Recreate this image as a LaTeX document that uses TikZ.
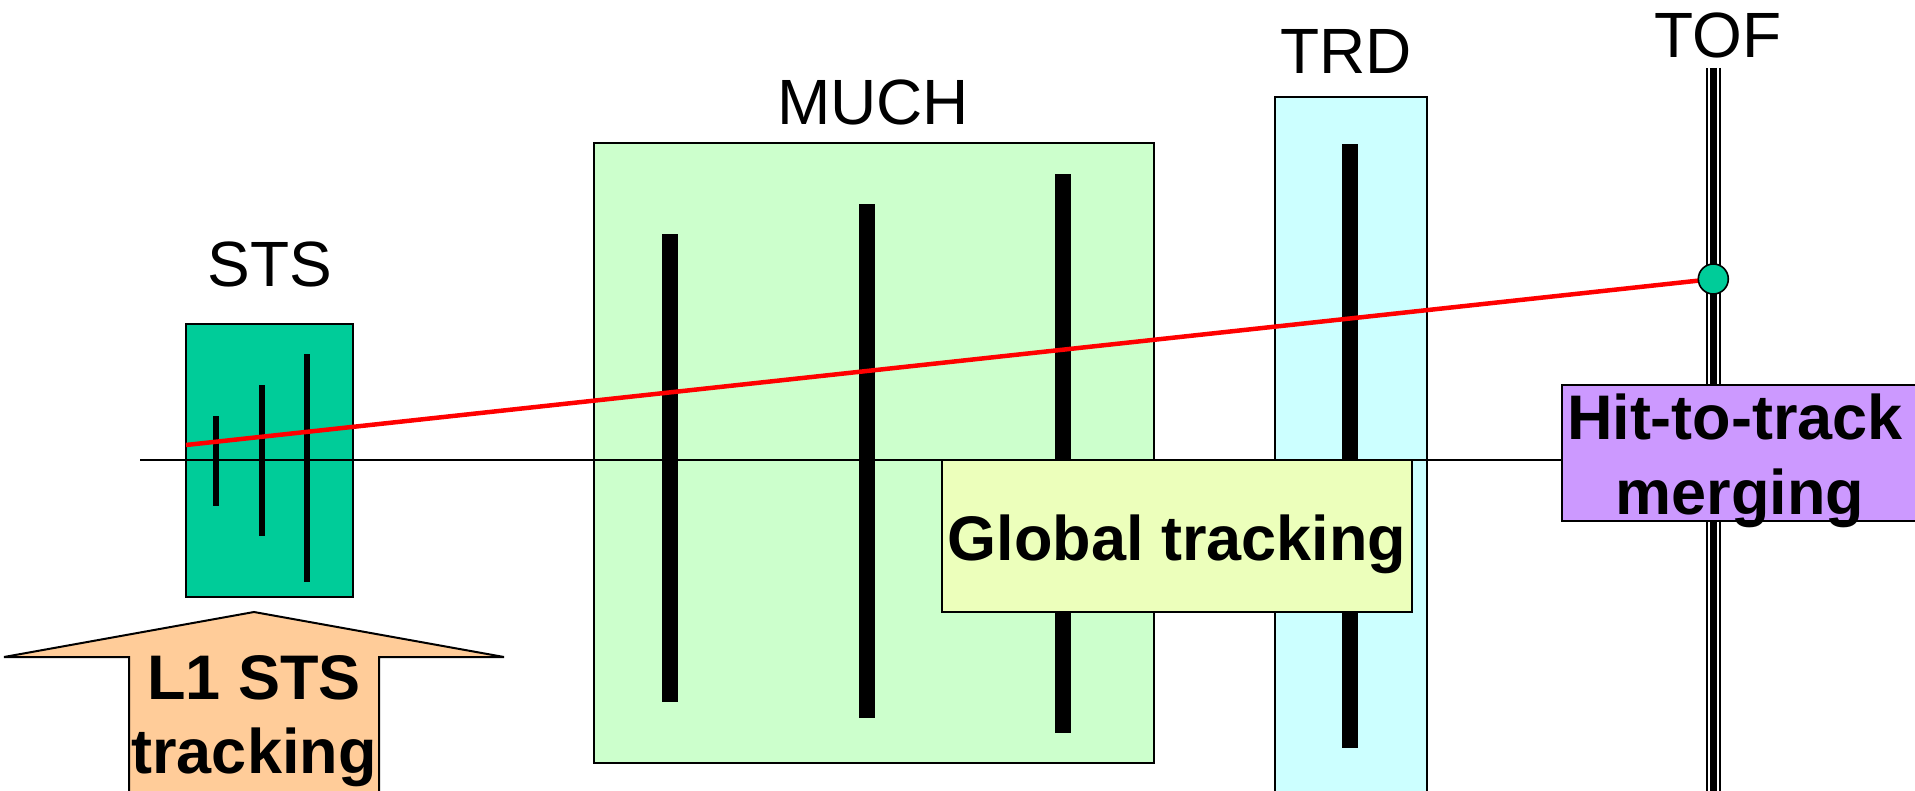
\documentclass[tikz,border=0pt]{standalone}
\usepackage{fontspec}
\setmainfont{Liberation Sans}
\definecolor{stsgreen}{RGB}{0,204,153}
\definecolor{muchgreen}{RGB}{204,255,204}
\definecolor{trdcyan}{RGB}{204,255,255}
\definecolor{globalyellow}{RGB}{236,255,187}
\definecolor{mergeviolet}{RGB}{204,153,255}
\definecolor{l1orange}{RGB}{255,204,153}
\begin{document}
\begin{tikzpicture}[x=0.5pt,y=-0.5pt,
  detbox/.style={draw=black,line width=1pt},
  taskbox/.style={draw=black,line width=1pt},
  detlabel/.style={font=\fontsize{32}{38}\selectfont,anchor=base,inner sep=0pt},
  tasklabel/.style={font=\bfseries\fontsize{31.5}{37}\selectfont,anchor=base,inner sep=0pt},
  beamaxis/.style={draw=black,line width=1pt},
  track/.style={draw=red,line width=2.25pt},
  plane/.style={fill=black}]
\useasboundingbox (0,0) rectangle (1915,791);
\clip (0,0) rectangle (1915,791);

% detector volumes
\path[detbox,fill=stsgreen]  (186,324) rectangle (353,597);
\path[detbox,fill=muchgreen] (594,143) rectangle (1154,763);
\path[detbox,fill=trdcyan]   (1275,97) rectangle (1427,820);

% beam axis
\coordinate (axisstart) at (140,459.5);
\coordinate (axisend) at (1562,459.5);
\path[beamaxis] (axisstart) -- (axisend);

% STS stations
\path[plane] (213,416) rectangle (219,506);
\path[plane] (259,385) rectangle (265,536);
\path[plane] (304,354) rectangle (310,582);

% MUCH stations
\path[plane] (662,234) rectangle (678,702);
\path[plane] (859,204) rectangle (875,718);
\path[plane] (1055,174) rectangle (1071,733);

% TRD station
\path[plane] (1342,144) rectangle (1358,748);

% TOF wall
\coordinate (toftop) at (1713.3,68);
\coordinate (tofbottom) at (1713.3,800);
\draw[black,line width=7.5pt] (toftop) -- (tofbottom);
\draw[white,line width=5.5pt] (toftop) -- (tofbottom);
\draw[black,line width=3.5pt] (toftop) -- (tofbottom);

% reconstructed track and TOF hit
\coordinate (trackstart) at (186,445);
\coordinate (hitpos) at (1713.3,279);
\path[track] (trackstart) -- (hitpos);
\node (tofhit) [circle,fill=stsgreen,draw=black,line width=0.8pt,minimum size=15pt,inner sep=0pt] at (hitpos) {};

% reconstruction steps
\path[taskbox,fill=globalyellow] (942,460) rectangle (1412,612);
\path[taskbox,fill=mergeviolet]  (1562,385) rectangle (1925,521);
\path[taskbox,fill=l1orange]
  (254,612) -- (504,657) -- (379,657) -- (379,820) -- (129,820) -- (129,657) -- (4,657) -- cycle;

% detector labels
\node[detlabel] (stslabel)  at (270,286) {STS};
\node[detlabel] (muchlabel) at (873,125) {MUCH};
\node[detlabel] (trdlabel)  at (1346,74) {TRD};
\node[detlabel] (toflabel)  at (1718,58) {TOF};

% step labels
\node[tasklabel] (l1a) at (254,699) {L1 STS};
\node[tasklabel] (l1b) at (254,773) {tracking};
\node[tasklabel] (glob) at (1177,560) {Global tracking};
\node[tasklabel] (merga) at (1735,439) {Hit-to-track};
\node[tasklabel] (mergb) at (1740,514) {merging};
\end{tikzpicture}
\end{document}
